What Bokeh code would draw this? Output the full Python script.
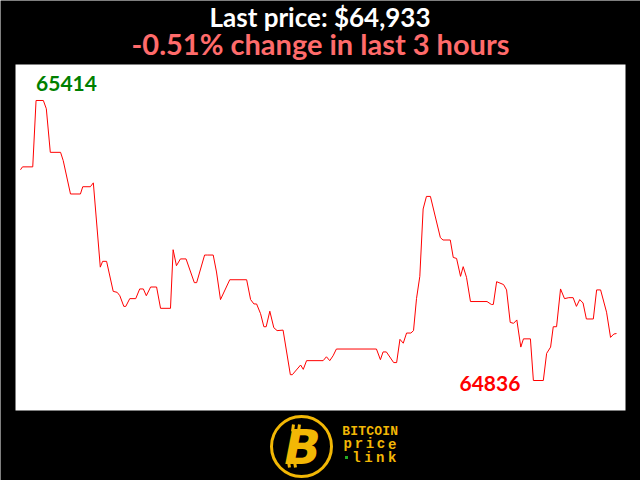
from bokeh.plotting import figure
from bokeh.models import Range1d
from bokeh.embed import file_html
from bokeh.resources import INLINE
from bokeh.core.properties import value

# ---- data (minutes since start of the 3-hour window, BTC price in USD) ----
minutes = [0.0, 0.6, 3.7, 4.7, 6.9, 7.8, 9.0, 12.1, 12.9, 15.1, 18.1, 18.8, 21.1, 22.0,
           24.1, 24.8, 26.0, 28.0, 29.2, 30.0, 31.2, 31.8, 33.0, 34.8, 36.0, 37.1, 38.0,
           39.3, 41.1, 42.3, 45.3, 46.1, 47.1, 48.3, 50.0, 52.5, 53.2, 55.6, 56.4, 58.2,
           59.2, 60.4, 63.2, 68.3, 69.5, 70.5, 71.3, 72.5, 73.5, 74.2, 75.3, 76.5, 77.5,
           79.3, 81.5, 82.1, 84.6, 85.4, 86.4, 91.4, 92.4, 93.4, 94.4, 95.4, 107.5, 108.7,
           109.5, 110.5, 112.7, 113.6, 114.6, 115.6, 116.6, 117.9, 118.7, 119.6, 120.6,
           121.6, 122.6, 123.8, 126.8, 127.6, 129.8, 130.7, 131.7, 132.9, 133.7, 134.7,
           135.9, 140.9, 142.2, 142.8, 143.8, 145.9, 146.8, 147.9, 148.9, 149.9, 151.1,
           151.9, 154.0, 154.9, 157.9, 158.9, 160.1, 160.9, 161.9, 163.1, 164.3, 165.6,
           166.9, 167.9, 168.9, 169.9, 170.9, 173.0, 174.0, 175.2, 177.0, 178.2, 179.2, 180.0]
prices = [65271, 65277, 65277, 65414, 65414, 65397, 65307, 65307, 65290, 65221, 65221, 65236,
          65236, 65244, 65070, 65082, 65082, 65020, 65018, 65011, 64989, 64989, 65005, 65005,
          65025, 65025, 65011, 65029, 65029, 64985, 64985, 65106, 65073, 65087, 65087, 65038,
          65038, 65095, 65095, 65095, 65060, 65003, 65044, 65044, 65003, 64994, 64994, 64974,
          64947, 64947, 64979, 64945, 64939, 64940, 64848, 64848, 64868, 64859, 64877, 64877,
          64885, 64877, 64887, 64901, 64901, 64879, 64895, 64895, 64873, 64873, 64921, 64913,
          64934, 64934, 64939, 65005, 65051, 65190, 65216, 65216, 65131, 65126, 65126, 65090,
          65088, 65051, 65071, 65049, 64999, 64999, 64993, 64993, 65040, 65034, 65023, 64956,
          64954, 64961, 64905, 64922, 64922, 64836, 64836, 64892, 64905, 64947, 64947, 65025,
          65005, 65007, 65007, 64989, 65003, 64996, 64963, 64963, 65023, 65023, 64977, 64925,
          64932, 64933]

title_price = "Last price: $64,933"
title_change = "-0.51% change in last 3 hours"
logo_words = ["BITCOIN", "price", "link"]

hi = max(prices)
lo = min(prices)
hi_i = prices.index(hi)
lo_i = prices.index(lo)

W, H = 640, 480
GOLD = "#f2b705"

p = figure(width=W, height=H, x_range=Range1d(-6.04, 187.25),
           y_range=Range1d(64629.6, 65620.4),
           x_axis_type=None, y_axis_type=None,
           output_backend="svg", toolbar_location=None, min_border=0,
           background_fill_color="black", border_fill_color="black",
           outline_line_color=None)
p.grid.visible = False
p.extra_x_ranges = {"px": Range1d(0, W)}
p.extra_y_ranges = {"px": Range1d(0, H)}

# white chart panel
p.quad(left=[15], right=[625], bottom=[70], top=[416], x_range_name="px", y_range_name="px",
       fill_color="white", line_color=None)

# price line
p.line(minutes, prices, line_color="red", line_width=1)

# high / low labels
p.text(x=[minutes[hi_i]], y=[hi], text=[str(hi)], text_color="green",
       text_font=value("Lato"), text_font_style="bold", text_font_size="21px",
       text_align="left", text_baseline="alphabetic", y_offset=-17)
p.text(x=[minutes[lo_i]], y=[lo], text=[str(lo)], text_color="red",
       text_font=value("Lato"), text_font_style="bold", text_font_size="21px",
       text_align="right", text_baseline="alphabetic", x_offset=-13, y_offset=3)

# titles
p.text(x=[319.5], y=[463.5], text=[title_price], x_range_name="px", y_range_name="px",
       text_color="white", text_font=value("Lato"), text_font_style="bold",
       text_font_size="26px", text_align="center", text_baseline="alphabetic")
p.text(x=[320], y=[437.5], text=[title_change], x_range_name="px", y_range_name="px",
       text_color="#ff6b6b", text_font=value("Lato"), text_font_style="bold",
       text_font_size="29px", text_align="center", text_baseline="alphabetic")

# logo: ring + B
p.scatter(x=[301], y=[34], marker="circle", size=60, x_range_name="px", y_range_name="px",
          fill_color=None, line_color=GOLD, line_width=3)
p.text(x=[302], y=[34], text=["B"], x_range_name="px", y_range_name="px",
       text_color=GOLD, text_font=value("DejaVu Sans"), text_font_style="bold italic",
       text_font_size="48px", text_align="center", text_baseline="middle")
p.segment(x0=[292, 298, 288, 294], y0=[49, 49, 19, 19], x1=[293, 299, 289, 295], y1=[56, 56, 13, 13],
          x_range_name="px", y_range_name="px", line_color=GOLD, line_width=3)

# logo words, character by character
rows = [(341.7, 8.0, 49.0, 13), (341.7, 11.1, 36.7, 14), (350.0, 11.9, 22.3, 14)]
for word, (x0, step, yb, fs) in zip(logo_words, rows):
    xs = [x0 + step / 2 + step * i for i in range(len(word))]
    p.text(x=xs, y=[yb] * len(word), text=list(word), x_range_name="px", y_range_name="px",
           text_color=GOLD, text_font=value("Liberation Mono"), text_font_style="bold",
           text_font_size=f"{fs}px", text_align="center", text_baseline="alphabetic")
p.scatter(x=[346], y=[23], marker="square", size=3, x_range_name="px", y_range_name="px",
          fill_color="#22aa22", line_color=None)

html = file_html(p, INLINE)
html = html.replace("<body>", '<body style="background-color:#000000;">', 1)
open("out.html", "w").write(html)
